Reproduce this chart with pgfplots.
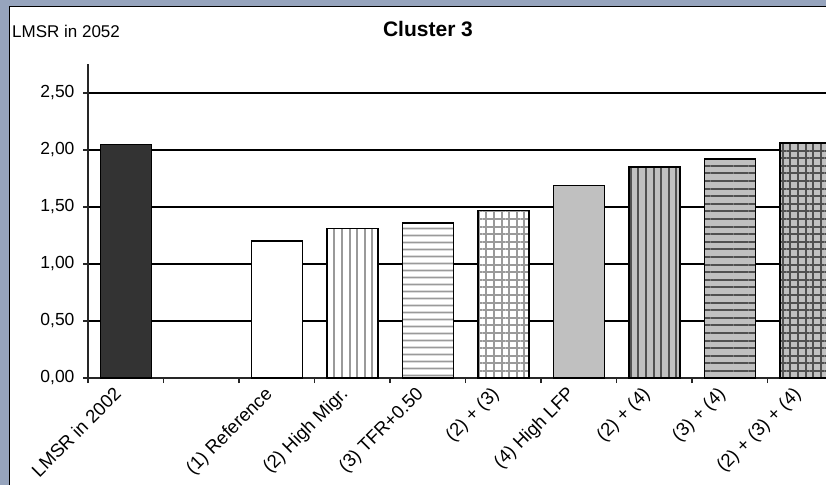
\documentclass[border=0pt]{standalone}
\usepackage{fontspec}
\setmainfont{Liberation Sans}
\usepackage{pgfplots}
\pgfplotsset{compat=1.18}
\usetikzlibrary{patterns.meta}
\definecolor{framecol}{HTML}{96A4BD}
\definecolor{darkbar}{HTML}{333333}
\definecolor{lightbar}{HTML}{C0C0C0}
\definecolor{lpat}{HTML}{9A9A9A}
\definecolor{dpat}{HTML}{505050}
\begin{document}
\begin{tikzpicture}
\useasboundingbox (0pt,0pt) rectangle (826pt,485pt);
\clip (0pt,0pt) rectangle (826pt,485pt);
\fill[framecol] (0pt,0pt) rectangle (826pt,485pt);
\fill[white] (9pt,0pt) rectangle (826pt,479pt);
\draw[black,line width=1pt] (9.5pt,0pt) -- (9.5pt,478.5pt) -- (826pt,478.5pt);
\node[anchor=west, inner sep=0pt, font=\fontsize{17}{19}\selectfont] at (12pt,454pt) {LMSR in 2052};
\node[inner sep=0pt, font=\fontsize{21}{24}\selectfont\bfseries] at (428pt,456pt) {Cluster 3};
\begin{axis}[
  at={(88pt,107pt)}, anchor=south west,
  scale only axis, width=755pt, height=314pt,
  xmin=-0.5, xmax=9.5, ymin=0, ymax=2.754,
  axis x line=bottom, axis y line=left,
  x axis line style={-, black!85, line width=1.8pt},
  y axis line style={-, black!85, line width=1.2pt},
  tick align=outside, major tick length=5pt,
  tick style={black!85, line width=1.2pt},
  xtick={-0.5,0.5,1.5,2.5,3.5,4.5,5.5,6.5,7.5,8.5,9.5},
  x tick label as interval,
  xticklabels={LMSR in 2002,{},(1) Reference,(2) High Migr.,(3) TFR+0.50,(2) + (3),(4) High LFP,(2) + (4),(3) + (4),(2) + (3) + (4)},
  ytick={0,0.5,1,1.5,2,2.5},
  yticklabels={{0,00},{0,50},{1,00},{1,50},{2,00},{2,50}},
  yticklabel style={font=\fontsize{17.5}{19}\selectfont, xshift=-5pt},
  xticklabel style={font=\fontsize{18.5}{20}\selectfont, xshift=-13pt, yshift=-1pt, rotate=45, anchor=north east, inner sep=1pt},
  ymajorgrids, major grid style={black, line width=1.7pt},
]
\addplot[ybar, bar width=51pt, draw=black, line width=1.5pt, fill=darkbar] coordinates {(0,2.05)};
\addplot[ybar, bar width=51pt, draw=black, line width=1.5pt, fill=white] coordinates {(2,1.20)};
\addplot[ybar, bar width=51pt, draw=black, line width=1.5pt, preaction={fill=white}, pattern={Lines[angle=90,distance=7.6pt,line width=2pt]}, pattern color=lpat] coordinates {(3,1.31)};
\addplot[ybar, bar width=51pt, draw=black, line width=1.5pt, preaction={fill=white}, pattern={Lines[angle=0,distance=7.4pt,line width=2pt]}, pattern color=lpat] coordinates {(4,1.36)};
\addplot[ybar, bar width=51pt, draw=black, line width=1.5pt, preaction={fill=white}, pattern={Hatch[angle=0,distance=7.6pt,line width=2pt]}, pattern color=lpat] coordinates {(5,1.47)};
\addplot[ybar, bar width=51pt, draw=black, line width=1.5pt, fill=lightbar] coordinates {(6,1.69)};
\addplot[ybar, bar width=51pt, draw=black, line width=1.5pt, preaction={fill=lightbar}, pattern={Lines[angle=90,distance=7.6pt,line width=2pt]}, pattern color=dpat] coordinates {(7,1.85)};
\addplot[ybar, bar width=51pt, draw=black, line width=1.5pt, preaction={fill=lightbar}, pattern={Lines[angle=0,distance=7.6pt,line width=2pt]}, pattern color=dpat] coordinates {(8,1.92)};
\addplot[ybar, bar width=51pt, draw=black, line width=1.5pt, preaction={fill=lightbar}, pattern={Hatch[angle=0,distance=7.6pt,line width=2pt]}, pattern color=dpat] coordinates {(9,2.06)};
\end{axis}
\end{tikzpicture}
\end{document}
